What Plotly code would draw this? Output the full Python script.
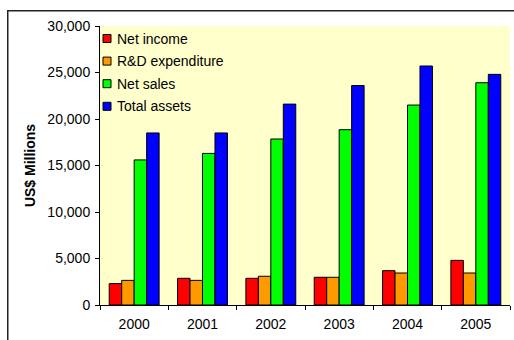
import plotly.graph_objects as go

years = ["2000", "2001", "2002", "2003", "2004", "2005"]
net_income = [2300, 2870, 2870, 2980, 3690, 4800]
rd_expenditure = [2650, 2650, 3090, 2980, 3440, 3440]
net_sales = [15600, 16300, 17850, 18850, 21500, 23900]
total_assets = [18500, 18500, 21600, 23600, 25700, 24800]

series = [
    ("Net income", net_income, "#FF0000"),
    ("R&D expenditure", rd_expenditure, "#FF9900"),
    ("Net sales", net_sales, "#00FF00"),
    ("Total assets", total_assets, "#0000FF"),
]

# plot area geometry in pixels (used for the key and the outer frame)
L, R, T, B = 100, 4, 26, 35
W, H = 514, 340
PW, PH = W - L - R, H - T - B


def px_x(x):
    return (x - L) / PW


def px_y(y):
    return (H - B - y) / PH


fig = go.Figure()
for name, vals, color in series:
    fig.add_trace(go.Bar(
        x=years, y=vals, name=name, showlegend=False,
        marker=dict(color=color, line=dict(color="black", width=1)),
    ))

font_family = "Liberation Sans, Arial, sans-serif"

shapes = []
annotations = []
# key in the upper-left corner of the plot area
for i, (name, vals, color) in enumerate(series):
    cy = 38.5 + i * 22.6
    shapes.append(dict(
        type="rect", xref="paper", yref="paper",
        x0=px_x(103), x1=px_x(111), y0=px_y(cy + 4), y1=px_y(cy - 4),
        fillcolor=color, line=dict(color="black", width=1), layer="above",
    ))
    annotations.append(dict(
        text=name, xref="paper", yref="paper",
        x=px_x(115), y=px_y(cy), xanchor="left", yanchor="middle",
        showarrow=False, font=dict(size=14),
    ))

# outer chart frame: a bordered empty box whose right and bottom edges
# fall outside the figure
annotations.append(dict(
    text=" ", xref="paper", yref="paper",
    x=px_x(7), y=px_y(10), xanchor="left", yanchor="top",
    width=560, height=380, showarrow=False,
    bordercolor="#222222", borderwidth=1.5, borderpad=0,
))

fig.update_layout(
    width=W, height=H,
    margin=dict(l=L, r=R, t=T, b=B),
    paper_bgcolor="white",
    plot_bgcolor="#FFFFCC",
    barmode="group",
    bargap=0.27,
    bargroupgap=0,
    font=dict(family=font_family, size=14, color="black"),
    showlegend=False,
    xaxis=dict(
        showline=True, linecolor="black", linewidth=1,
        ticks="outside", ticklen=4, tickcolor="black",
        tickson="boundaries", showgrid=False,
        tickfont=dict(size=14), ticklabelstandoff=6,
    ),
    yaxis=dict(
        range=[0, 30000], dtick=5000, tickformat=",d",
        showline=True, linecolor="black", linewidth=1,
        ticks="outside", ticklen=4, tickcolor="black",
        showgrid=False, zeroline=False,
        tickfont=dict(size=14), ticklabelstandoff=2,
        title=dict(text="<b>US$ Millions</b>", font=dict(size=14), standoff=8),
    ),
    shapes=shapes,
    annotations=annotations,
)

fig.write_html("out.html")
